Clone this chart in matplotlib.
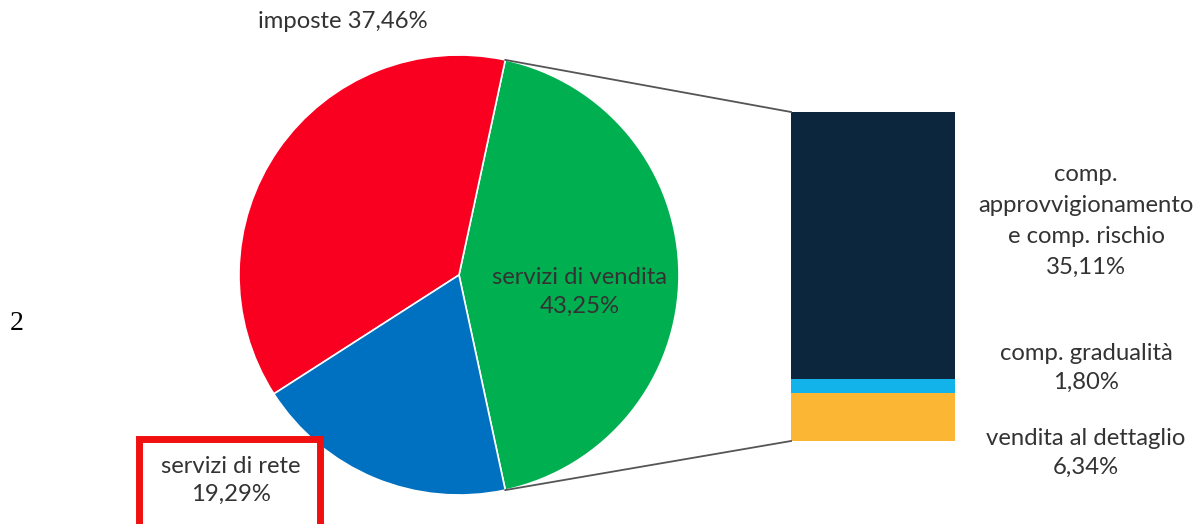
import numpy as np
import matplotlib.pyplot as plt
from matplotlib.patches import Rectangle

plt.rcParams['font.family'] = ['Lato', 'DejaVu Sans']

# quote del prezzo (pie principale)
pie_labels = ["servizi di vendita", "imposte", "servizi di rete"]
pie_values = [43.25, 37.46, 19.29]
pie_colors = ["#00B050", "#FA0020", "#0070C0"]

# dettaglio dei servizi di vendita (barra impilata, dal basso verso l'alto)
bar_labels = ["vendita al dettaglio", "comp. gradualità",
              "comp.\napprovvigionamento\ne comp. rischio"]
bar_values = [6.34, 1.80, 35.11]
bar_colors = ["#FBB634", "#12B2EA", "#0B263D"]

W, H = 1201, 524
fig = plt.figure(figsize=(W / 100, H / 100), dpi=100)
ax = fig.add_axes([0, 0, 1, 1])

# pie: la fetta di vendita centrata a destra
PIE_C = (459, 249)
PIE_R = 220
start = -pie_values[0] / 100 * 360 / 2
wedges, _ = ax.pie(pie_values, colors=pie_colors, startangle=start,
                   counterclock=True, center=PIE_C, radius=PIE_R,
                   wedgeprops=dict(edgecolor="white", linewidth=1.2))

# barra impilata alla stessa scala della fetta di vendita
BAR_X, BAR_W = 873, 164
BAR_Y0, BAR_HT = 83, 329
scale = BAR_HT / sum(bar_values)
bottom = BAR_Y0
for val, col in zip(bar_values, bar_colors):
    ax.bar(BAR_X, val * scale, width=BAR_W, bottom=bottom, color=col,
           linewidth=0)
    bottom += val * scale

# linee di collegamento fetta -> barra
a1 = np.deg2rad(start + pie_values[0] / 100 * 360)
a0 = np.deg2rad(start)
p_top = (PIE_C[0] + PIE_R * np.cos(a1), PIE_C[1] + PIE_R * np.sin(a1))
p_bot = (PIE_C[0] + PIE_R * np.cos(a0), PIE_C[1] + PIE_R * np.sin(a0))
ax.plot([p_top[0], BAR_X - BAR_W / 2], [p_top[1], bottom],
        color="#555555", lw=1.3)
ax.plot([p_bot[0], BAR_X - BAR_W / 2], [p_bot[1], BAR_Y0],
        color="#555555", lw=1.3)

def fmt(v):
    return f"{v:.2f}".replace(".", ",") + "%"

TXT = "#333333"
FS = 17.2
LS = 1.5

# etichette del pie
ax.text(343, 502, f"{pie_labels[1]} {fmt(pie_values[1])}", ha="center",
        va="center", fontsize=FS, color=TXT)
ax.text(580, 232, f"{pie_labels[0]}\n{fmt(pie_values[0])}", ha="center",
        va="center", fontsize=FS, color=TXT, linespacing=LS)
ax.text(231, 44, f"{pie_labels[2]}\n{fmt(pie_values[2])}", ha="center",
        va="center", fontsize=FS, color=TXT, linespacing=1.4)
ax.add_patch(Rectangle((139, -10), 181, 95, fill=False,
                       edgecolor="#F01010", linewidth=5))

# etichette della barra
label_y = [71, 156, 303]
for lab, val, y in zip(bar_labels, bar_values, label_y):
    ax.text(1086, y, f"{lab}\n{fmt(val)}", ha="center", va="center",
            fontsize=FS, color=TXT, linespacing=1.6 if "\n" in lab else LS)

ax.text(17, 201, "2", ha="center", va="center", fontsize=20,
        family="Liberation Serif", color="black")

ax.set_xlim(0, W)
ax.set_ylim(0, H)
ax.set_aspect("equal")
ax.axis("off")

fig.savefig("out.png", dpi=100)
